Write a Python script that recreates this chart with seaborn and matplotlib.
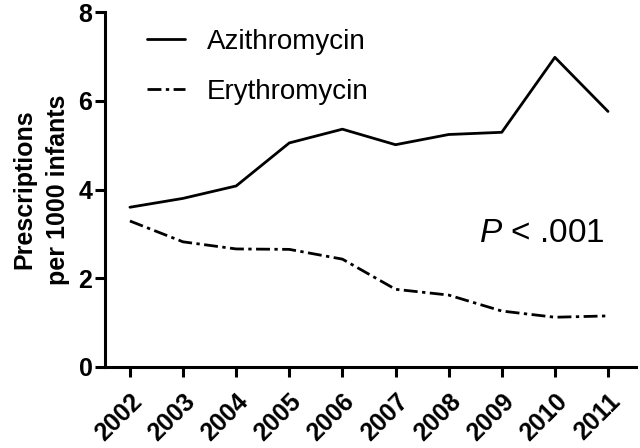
import pandas as pd
import matplotlib.pyplot as plt
import seaborn as sns

years = [2002, 2003, 2004, 2005, 2006, 2007, 2008, 2009, 2010, 2011]
azithromycin = [3.60, 3.80, 4.08, 5.05, 5.36, 5.01, 5.24, 5.29, 6.98, 5.76]
erythromycin = [3.29, 2.82, 2.66, 2.65, 2.43, 1.75, 1.62, 1.26, 1.12, 1.15]

df = pd.DataFrame({'Year': years, 'Azithromycin': azithromycin, 'Erythromycin': erythromycin})
long = df.melt(id_vars='Year', var_name='Drug', value_name='Rate')

sns.set_style('ticks')
plt.rcParams['font.family'] = ['Liberation Sans', 'DejaVu Sans']
plt.rcParams.update({'text.color': 'black', 'axes.labelcolor': 'black',
                     'xtick.color': 'black', 'ytick.color': 'black',
                     'axes.edgecolor': 'black',
                     'mathtext.fontset': 'custom',
                     'mathtext.it': 'Liberation Sans:italic',
                     'mathtext.rm': 'Liberation Sans'})

fig = plt.figure(figsize=(6.4, 4.48), dpi=100)
ax = fig.add_axes([0.164, 0.181, 0.83, 0.792])

sns.lineplot(data=long, x='Year', y='Rate', style='Drug', color='black',
             dashes={'Azithromycin': '', 'Erythromycin': (5, 1.6, 1.2, 1.6)},
             linewidth=2.0, ax=ax)

ax.set_xlim(2001.53, 2011.53)
ax.set_ylim(0, 8)
ax.set_yticks([0, 2, 4, 6, 8])
ax.set_xticks(years)
ax.set_xticklabels([str(y) for y in years], rotation=45, ha='right',
                   rotation_mode='anchor', fontsize=18, fontweight='bold')
ax.tick_params(axis='y', labelsize=18, width=2.2, length=7, pad=2)
ax.tick_params(axis='x', width=2.2, length=7, pad=9)
for t in ax.get_yticklabels():
    t.set_fontweight('bold')
ax.set_xlabel('')
ax.set_ylabel('Prescriptions\nper 1000 infants', fontsize=18, fontweight='bold',
              linespacing=1.5, labelpad=6)
sns.despine(ax=ax)
for s in ['left', 'bottom']:
    ax.spines[s].set_linewidth(2.2)

leg = ax.legend(loc='upper left', bbox_to_anchor=(0.079, 0.952), frameon=False,
                fontsize=20, handlelength=1.37, handletextpad=0.8, labelspacing=0.85,
                borderpad=0, borderaxespad=0)
for line in leg.get_lines():
    line.set_linewidth(2.0)

ax.text(0.94, 0.375, r'$P$ < .001', transform=ax.transAxes, ha='right', va='center',
        fontsize=24)

fig.savefig('out.png', dpi=100)
